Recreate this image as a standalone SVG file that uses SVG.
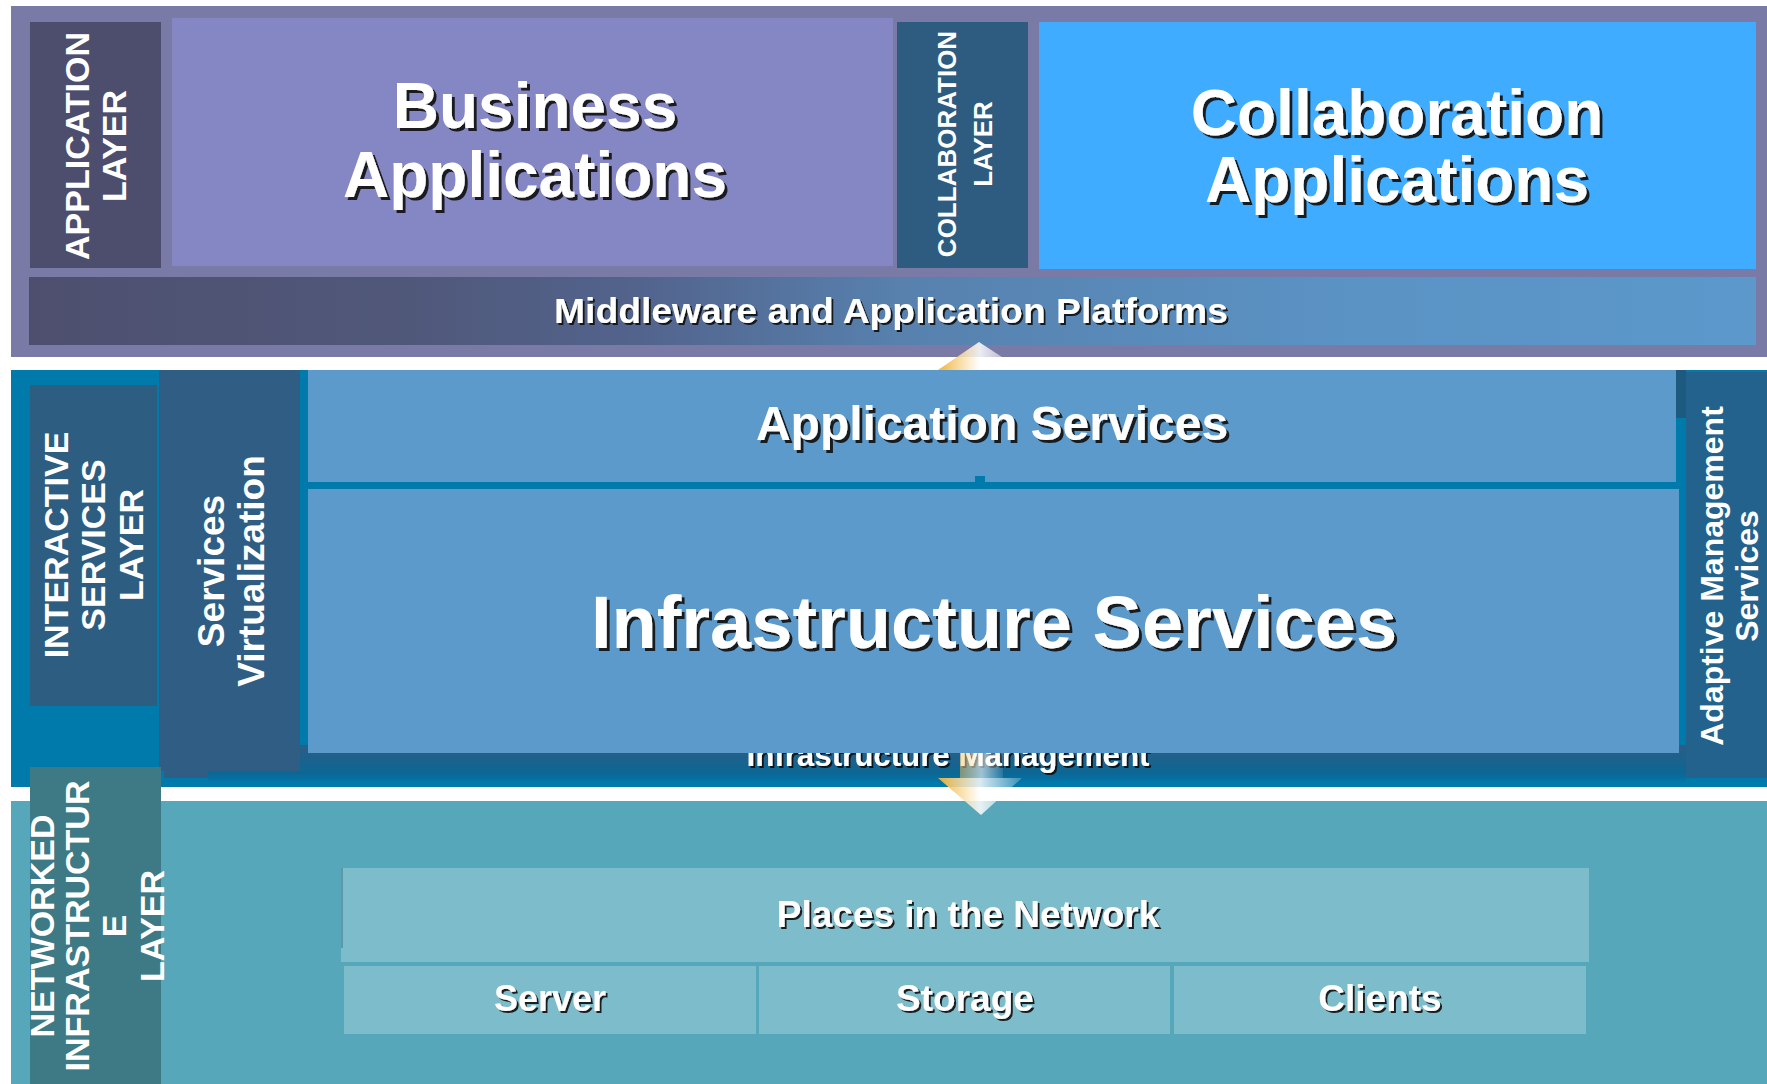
<svg xmlns="http://www.w3.org/2000/svg" width="1767" height="1084" viewBox="0 0 1767 1084">
<defs>
<style>
.t{font-family:"Liberation Sans",Arial,sans-serif;font-weight:bold;fill:#fff;text-anchor:middle}
.sh{filter:url(#shadow)}
.shs{filter:url(#shadowS)}
</style>
<filter id="shadow" x="-10%" y="-30%" width="120%" height="160%">
<feOffset in="SourceAlpha" dx="3" dy="3" result="o"/>
<feFlood flood-color="#111" flood-opacity="0.9"/>
<feComposite in2="o" operator="in"/>
<feMerge><feMergeNode/><feMergeNode in="SourceGraphic"/></feMerge>
</filter>
<filter id="shadowS" x="-10%" y="-30%" width="120%" height="160%">
<feOffset in="SourceAlpha" dx="2" dy="2" result="o"/>
<feFlood flood-color="#111" flood-opacity="0.9"/>
<feComposite in2="o" operator="in"/>
<feMerge><feMergeNode/><feMergeNode in="SourceGraphic"/></feMerge>
</filter>
<linearGradient id="mw" x1="0" x2="1" y1="0" y2="0">
<stop offset="0" stop-color="#4E4F6F"/>
<stop offset="0.22" stop-color="#50587A"/>
<stop offset="0.35" stop-color="#52638C"/>
<stop offset="0.5" stop-color="#5780AD"/>
<stop offset="0.75" stop-color="#5A92C3"/>
<stop offset="1" stop-color="#5C98CB"/>
</linearGradient>
<linearGradient id="imb" x1="0" x2="0" y1="0" y2="1">
<stop offset="0" stop-color="#2C5D85"/>
<stop offset="0.75" stop-color="#0B6794"/>
<stop offset="1" stop-color="#0079AB"/>
</linearGradient>
<linearGradient id="arw" x1="0" x2="1" y1="0" y2="0">
<stop offset="0" stop-color="#F0B030" stop-opacity="0.95"/>
<stop offset="0.5" stop-color="#FFFFFF" stop-opacity="0.85"/>
<stop offset="1" stop-color="#FFFFFF" stop-opacity="0.2"/>
</linearGradient>
<linearGradient id="shaft" x1="0" x2="1" y1="0" y2="0">
<stop offset="0" stop-color="#F0C060" stop-opacity="0.5"/>
<stop offset="0.5" stop-color="#FFFFFF" stop-opacity="0.6"/>
<stop offset="1" stop-color="#FFFFFF" stop-opacity="0.1"/>
</linearGradient>
</defs>

<rect width="1767" height="1084" fill="#fff"/>

<!-- Top application band -->
<g id="application-band">
<rect x="11" y="6" width="1756" height="351" fill="#7A7AA7"/>
</g>
<g id="application-layer">
<rect x="30" y="22" width="131" height="246" fill="#4D4D6D"/>
<g transform="translate(0,146) rotate(-90)">
<text class="t" x="0" y="89" font-size="34">APPLICATION</text>
<text class="t" x="0" y="126" font-size="34">LAYER</text>
</g>
</g>
<g id="business-applications">
<rect x="172" y="18" width="721" height="248" fill="#8587C5"/>
<text class="t sh" x="535" y="128" font-size="64">Business</text>
<text class="t sh" x="535" y="197" font-size="64">Applications</text>
</g>
<g id="collaboration-layer">
<rect x="897" y="22" width="131" height="246" fill="#2E5C80"/>
<g transform="translate(0,144) rotate(-90)">
<text class="t" x="0" y="956" font-size="26">COLLABORATION</text>
<text class="t" x="0" y="992" font-size="26">LAYER</text>
</g>
</g>
<g id="collaboration-applications">
<rect x="1039" y="22" width="717" height="247" fill="#40ACFF"/>
<text class="t sh" x="1397" y="135" font-size="64">Collaboration</text>
<text class="t sh" x="1397" y="202" font-size="64">Applications</text>
</g>
<g id="middleware">
<rect x="29" y="277" width="1727" height="68" fill="url(#mw)"/>
<text class="t shs" x="891" y="323" font-size="35" textLength="674" lengthAdjust="spacingAndGlyphs">Middleware and Application Platforms</text>
</g>

<!-- Connectors (arrows) drawn before middle band so the band overlaps the up arrow -->
<g id="connectors">
<g id="arrow-up">
<polygon points="979,342 938,370 1022,370" fill="url(#arw)"/>
</g>
</g>

<!-- Middle interactive services band -->
<g id="interactive-band">
<rect x="11" y="370" width="1756" height="417" fill="#0079AB"/>
<rect x="208" y="745" width="1478" height="38" fill="url(#imb)"/>
<rect x="1676" y="370" width="10" height="48" fill="#1E5A80"/>
</g>
<g id="infrastructure-management">
<text class="t shs" x="948" y="766" font-size="31" textLength="403" lengthAdjust="spacingAndGlyphs">Infrastructure Management</text>
</g>
<g id="interactive-services-layer">
<rect x="30" y="385" width="127" height="321" fill="#2E5D82"/>
<g transform="translate(0,545) rotate(-90)">
<text class="t" x="0" y="68" font-size="34">INTERACTIVE</text>
<text class="t" x="0" y="105" font-size="34">SERVICES</text>
<text class="t" x="0" y="143" font-size="34">LAYER</text>
</g>
</g>
<g id="services-virtualization">
<rect x="159" y="370" width="141" height="401" fill="#2F5D83"/>
<rect x="164" y="771" width="44" height="7" fill="#2F5D83"/>
<g transform="translate(0,571) rotate(-90)">
<text class="t" x="0" y="224" font-size="37">Services</text>
<text class="t" x="0" y="264" font-size="37">Virtualization</text>
</g>
</g>
<g id="application-services">
<rect x="308" y="370" width="1368" height="112" fill="#5C9ACB"/>
<rect x="975" y="476" width="10" height="6" fill="#0079AB"/>
<text class="t sh" x="992" y="440" font-size="48">Application Services</text>
</g>
<g id="infrastructure-services">
<rect x="308" y="489" width="1371" height="264" fill="#5C9ACB"/>
<text class="t sh" x="994" y="648" font-size="74">Infrastructure Services</text>
</g>
<g id="adaptive-management-services">
<rect x="1686" y="372" width="81" height="406" fill="#23628D"/>
<g transform="translate(0,576) rotate(-90)">
<text class="t" x="0" y="1723" font-size="32">Adaptive Management</text>
<text class="t" x="0" y="1758" font-size="32">Services</text>
</g>
</g>

<!-- Bottom networked infrastructure band -->
<g id="networked-band">
<rect x="11" y="801" width="1756" height="283" fill="#57A7BA"/>
</g>
<g id="networked-infrastructure-layer">
<rect x="30" y="767" width="131" height="317" fill="#3D7A85"/>
<g transform="translate(0,926) rotate(-90)">
<text class="t" x="0" y="54" font-size="34">NETWORKED</text>
<text class="t" x="0" y="89" font-size="34">INFRASTRUCTUR</text>
<text class="t" x="0" y="126" font-size="34">E</text>
<text class="t" x="0" y="164" font-size="34">LAYER</text>
</g>
</g>
<g id="places-in-the-network">
<rect x="341" y="868" width="1248" height="94" fill="#7DBDCB"/>
<rect x="341" y="868" width="2" height="80" fill="#5E98A8"/>
<text class="t shs" x="968" y="927" font-size="37">Places in the Network</text>
</g>
<g id="server">
<rect x="344" y="966" width="412" height="68" fill="#7DBDCB"/>
<text class="t shs" x="550" y="1011" font-size="36">Server</text>
</g>
<g id="storage">
<rect x="759" y="966" width="411" height="68" fill="#7DBDCB"/>
<text class="t shs" x="965" y="1011" font-size="37">Storage</text>
</g>
<g id="clients">
<rect x="1174" y="966" width="412" height="68" fill="#7DBDCB"/>
<text class="t shs" x="1380" y="1011" font-size="37">Clients</text>
</g>

<!-- Down arrow connector over bands -->
<g id="connectors-down">
<rect x="960" y="753" width="43" height="25" fill="url(#shaft)"/>
<polygon points="938,778 1022,778 981,815" fill="url(#arw)"/>
</g>
</svg>
